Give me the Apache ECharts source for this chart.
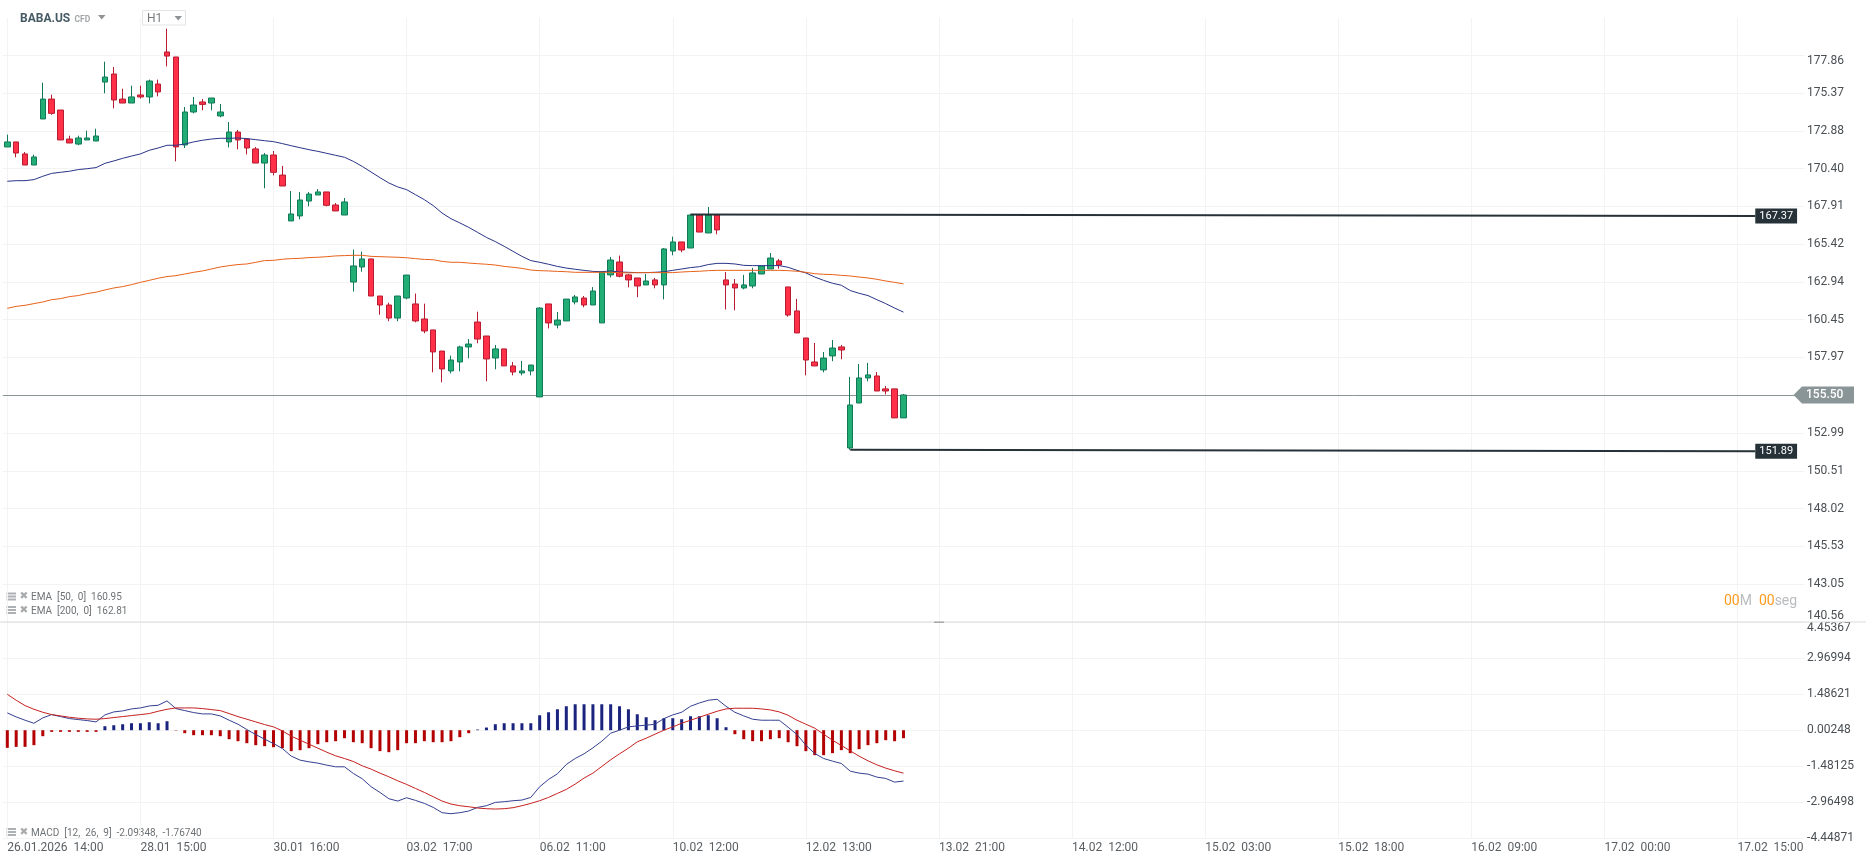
<!DOCTYPE html>
<html>
<head>
<meta charset="utf-8">
<style>html,body{margin:0;padding:0;background:#fff;overflow:hidden}#c{width:1866px;height:865px}</style>
<script src="https://cdn.jsdelivr.net/npm/echarts@6/dist/echarts.min.js"></script>
</head>
<body>
<div id="c"></div>
<script>
const tickLabels = ['26.01.2026  14:00','28.01  15:00','30.01  16:00','03.02  17:00','06.02  11:00','10.02  12:00','12.02  13:00','13.02  21:00','14.02  12:00','15.02  03:00','15.02  18:00','16.02  09:00','17.02  00:00','17.02  15:00'];
const priceTicks = [140.56,143.05,145.53,148.02,150.51,152.99,155.48,157.97,160.45,162.94,165.42,167.91,170.40,172.88,175.37,177.86];
const macdTicks = [-4.44871,-2.96498,-1.48125,0.00248,1.48621,2.96994,4.45367];
const lastPrice = 155.50;
const levelHigh = [167.37, 167.28];
const levelLow = [151.89, 151.80];

const barOpen = [
171.82,172.15,171.36,170.63,173.66,174.97,174.25,172.34,172.01,172.28,
172.21,176.09,176.62,174.97,174.71,175.24,175.11,175.96,178.07,177.74,
171.95,174.12,174.78,174.71,173.86,172.15,172.80,172.34,171.69,170.76,
171.29,169.97,166.95,167.28,168.26,168.66,168.86,168.00,167.34,162.93,
163.92,164.45,162.01,161.42,160.56,161.88,161.49,160.50,159.78,158.39,
157.08,157.67,158.66,160.30,159.38,157.93,158.53,157.41,156.95,157.08,
155.37,161.49,160.10,160.37,161.62,161.88,161.42,160.24,163.40,164.25,
163.40,163.20,162.74,163.07,162.74,164.97,165.57,165.17,167.34,166.16,
167.34,163.07,162.80,162.54,162.67,163.46,163.79,164.32,162.61,161.03,
159.25,157.67,157.15,158.07,158.66,152.01,154.97,156.62,156.75,155.90,155.90,153.99];
const barClose = [
172.15,171.42,170.63,171.16,174.97,174.03,172.28,172.08,172.41,172.41,
172.54,176.42,174.91,174.71,175.11,175.11,176.16,175.44,177.80,171.82,
174.12,174.58,174.62,175.04,174.12,172.80,172.28,171.75,170.76,171.29,
170.15,169.25,167.41,168.33,168.72,168.86,167.98,167.61,168.20,163.99,
164.45,162.01,161.42,160.56,162.01,163.39,160.37,159.71,158.33,157.21,
157.80,158.66,158.85,159.18,157.87,158.53,157.41,157.01,157.08,157.47,
161.22,160.24,160.43,161.81,161.95,161.42,162.34,163.59,164.38,163.31,
163.07,162.67,163.00,162.74,165.11,165.57,165.04,167.34,166.22,167.34,
166.36,162.74,162.54,162.74,163.53,163.99,164.51,164.05,160.76,159.58,
157.80,157.41,157.93,158.59,158.46,154.84,156.62,156.82,155.76,155.76,153.99,155.50];
const barLow = [
171.82,171.14,170.63,170.63,173.66,173.94,172.28,172.08,171.93,172.28,
172.21,175.35,174.36,174.71,174.71,175.00,174.69,175.15,177.12,170.87,
171.75,174.03,174.23,174.23,173.77,171.79,171.66,171.33,170.76,169.10,
169.95,169.25,166.95,167.06,167.91,168.66,167.91,167.61,167.34,162.30,
163.61,162.01,160.78,160.35,160.35,161.79,160.28,159.56,156.99,156.33,
156.92,157.06,157.91,158.90,156.40,157.19,157.41,156.79,156.79,156.79,
155.37,159.88,159.88,160.37,161.46,161.27,161.42,160.24,163.24,163.24,
162.58,161.93,162.74,162.52,161.79,164.69,164.89,165.17,166.22,166.16,
166.07,161.12,161.07,162.45,162.52,163.46,163.79,163.81,160.65,159.58,
156.79,157.41,156.99,157.72,157.85,151.89,154.97,156.40,155.76,155.54,153.99,153.99];
const barHigh = [
172.63,172.15,171.49,171.31,176.05,175.26,174.25,172.56,172.56,172.89,
173.02,177.43,177.08,175.65,175.85,175.85,176.25,176.25,179.60,177.74,
174.45,175.11,174.97,175.04,174.65,173.46,172.94,172.41,171.82,171.42,
171.55,170.57,168.92,168.86,168.86,169.05,168.86,168.13,168.46,165.06,
164.93,164.45,162.01,161.57,162.01,163.39,162.17,161.51,159.78,158.39,
158.09,158.74,159.18,160.98,159.38,158.79,158.53,157.67,157.74,157.47,
161.27,161.49,160.96,161.81,162.08,162.01,162.60,163.59,164.58,164.67,
163.46,163.20,163.46,163.20,165.17,165.92,165.57,167.37,167.34,167.87,
167.41,163.59,163.13,163.40,163.86,163.99,164.84,164.45,162.61,161.82,
159.25,158.92,158.33,159.12,158.79,156.69,157.54,157.61,157.01,156.09,155.90,155.57];
const ema50 = [
169.56,169.60,169.60,169.67,169.89,170.08,170.15,170.22,170.33,170.39,
170.46,170.74,170.90,171.07,171.22,171.36,171.60,171.75,171.93,171.93,
172.01,172.15,172.26,172.34,172.39,172.39,172.41,172.37,172.30,172.23,
172.17,172.04,171.90,171.77,171.64,171.53,171.40,171.27,171.14,170.87,
170.54,170.17,169.80,169.45,169.19,169.01,168.68,168.35,167.96,167.47,
167.10,166.82,166.53,166.20,165.87,165.59,165.28,164.95,164.62,164.34,
164.23,164.10,163.96,163.85,163.77,163.70,163.63,163.61,163.66,163.59,
163.57,163.55,163.55,163.57,163.61,163.70,163.79,163.88,163.94,164.08,
164.16,164.16,164.12,164.03,164.01,164.01,164.01,164.01,163.90,163.70,
163.53,163.26,163.04,162.85,162.72,162.37,162.19,162.04,161.77,161.51,161.22,160.95];
const ema200 = [
161.20,161.33,161.40,161.51,161.62,161.77,161.84,161.97,162.04,162.17,
162.26,162.41,162.54,162.63,162.76,162.91,163.04,163.18,163.29,163.35,
163.46,163.57,163.66,163.79,163.92,164.01,164.08,164.12,164.23,164.34,
164.36,164.43,164.47,164.49,164.54,164.56,164.60,164.65,164.67,164.69,
164.69,164.62,164.60,164.58,164.56,164.53,164.47,164.42,164.40,164.29,
164.23,164.23,164.18,164.14,164.10,164.05,163.96,163.90,163.83,163.72,
163.68,163.66,163.63,163.61,163.57,163.57,163.57,163.57,163.57,163.55,
163.53,163.55,163.55,163.55,163.55,163.55,163.59,163.62,163.64,163.68,
163.70,163.70,163.70,163.70,163.70,163.70,163.70,163.70,163.68,163.64,
163.57,163.48,163.44,163.42,163.37,163.33,163.26,163.20,163.11,163.00,162.91,162.81];
const macdLine = [
0.712,0.548,0.411,0.287,0.507,0.643,0.561,0.479,0.438,0.397,
0.342,0.630,0.753,0.794,0.876,0.917,0.999,1.027,1.205,0.890,
0.808,0.726,0.671,0.671,0.589,0.411,0.246,0.027,-0.178,-0.370,
-0.548,-0.753,-1.068,-1.232,-1.301,-1.355,-1.437,-1.506,-1.506,-1.780,
-1.999,-2.327,-2.560,-2.820,-2.916,-2.779,-2.889,-3.012,-3.176,-3.395,
-3.436,-3.395,-3.327,-3.176,-3.108,-2.971,-2.943,-2.902,-2.875,-2.765,
-2.327,-2.026,-1.793,-1.410,-1.164,-0.972,-0.726,-0.452,-0.123,0.000,
0.137,0.178,0.205,0.246,0.479,0.630,0.739,0.986,1.123,1.232,
1.273,0.986,0.739,0.589,0.452,0.411,0.411,0.411,0.123,-0.178,
-0.616,-0.958,-1.164,-1.273,-1.369,-1.684,-1.766,-1.807,-1.930,-1.985,-2.136,-2.093];
const signalLine = [
1.479,1.232,1.013,0.862,0.739,0.643,0.589,0.534,0.493,0.465,
0.452,0.479,0.520,0.561,0.602,0.643,0.685,0.780,0.862,0.917,
0.917,0.917,0.890,0.849,0.808,0.685,0.561,0.452,0.342,0.233,
0.137,-0.027,-0.246,-0.411,-0.575,-0.739,-0.904,-1.054,-1.164,-1.287,
-1.465,-1.602,-1.766,-1.917,-2.081,-2.231,-2.396,-2.560,-2.738,-2.916,
-3.039,-3.108,-3.149,-3.203,-3.231,-3.245,-3.231,-3.190,-3.108,-3.012,
-2.902,-2.765,-2.601,-2.437,-2.218,-1.971,-1.766,-1.492,-1.218,-0.972,
-0.739,-0.479,-0.329,-0.164,0.000,0.137,0.287,0.411,0.534,0.657,
0.780,0.876,0.904,0.904,0.904,0.876,0.835,0.753,0.616,0.411,
0.246,0.082,-0.164,-0.411,-0.630,-0.849,-1.068,-1.259,-1.424,-1.561,-1.670,-1.767];
const macdHist = [
-0.726,-0.685,-0.685,-0.616,-0.246,-0.068,-0.068,-0.068,-0.068,-0.068,
-0.068,0.164,0.205,0.246,0.287,0.287,0.329,0.287,0.370,-0.014,
-0.123,-0.205,-0.205,-0.205,-0.246,-0.370,-0.452,-0.534,-0.616,-0.657,
-0.698,-0.739,-0.862,-0.821,-0.739,-0.575,-0.493,-0.452,-0.329,-0.493,
-0.534,-0.739,-0.862,-0.904,-0.821,-0.534,-0.534,-0.452,-0.493,-0.493,
-0.452,-0.287,-0.123,0.027,0.110,0.246,0.287,0.287,0.287,0.287,
0.616,0.739,0.862,0.986,1.068,1.068,1.068,1.068,1.068,0.986,
0.862,0.657,0.534,0.411,0.493,0.493,0.452,0.575,0.575,0.616,
0.493,0.123,-0.164,-0.370,-0.452,-0.452,-0.370,-0.329,-0.493,-0.657,
-0.862,-1.027,-1.027,-0.945,-0.821,-0.945,-0.780,-0.616,-0.534,-0.411,-0.452,-0.329];

const slots = 203;
const tickEvery = 15;
const categories = Array.from({length: slots}, (_, i) => (i % tickEvery === 0 && tickLabels[i / tickEvery]) || '');
const candles = barOpen.map((o, i) => [o, barClose[i], barLow[i], barHigh[i]]);
const gridColor = '#f3f3f3';
const font = 'Roboto';

function xAxisFor(gridIndex, showLabels) {
  return {
    type: 'category', gridIndex, data: categories, boundaryGap: true,
    axisLine: {show: false}, axisTick: {show: false, interval: tickEvery - 1, alignWithLabel: true},
    splitLine: {show: true, interval: tickEvery - 1, alignWithLabel: true, lineStyle: {color: gridColor, width: 1}},
    axisLabel: {show: showLabels, interval: tickEvery - 1, align: 'left', margin: 4, color: '#5a5f63', fontFamily: font, fontSize: 12}
  };
}
function yAxisFor(gridIndex, min, max, ticks, labelTicks, digits) {
  return {
    type: 'value', gridIndex, position: 'right', min, max, scale: true,
    axisLine: {show: false},
    axisTick: {show: false, customValues: ticks},
    splitLine: {show: true, lineStyle: {color: gridColor, width: 1}},
    axisLabel: {show: true, customValues: labelTicks, margin: 3, color: '#4a4f53', fontFamily: font, fontSize: 12,
      verticalAlignMinLabel: gridIndex === 0 ? 'bottom' : 'middle',
      verticalAlignMaxLabel: 'top',
      formatter: v => v.toFixed(digits)}
  };
}
function levelSeries(start, ends) {
  return {
    type: 'line', xAxisIndex: 0, yAxisIndex: 0, data: [[start, ends[0]], [197, ends[1]]], symbol: 'none', z: 5, silent: true,
    lineStyle: {color: '#263238', width: 2},
    endLabel: {show: true, position: 'right', distance: 0, formatter: () => ends[0].toFixed(2), backgroundColor: '#263238', color: '#fff',
      fontFamily: font, fontSize: 11, lineHeight: 11, padding: [2, 4, 2, 4]}
  };
}
function legendGraphics(text, cy) {
  return [
    {type: 'rect', shape: {x: 6.5, y: cy - 4.5, width: 9.5, height: 2}, style: {fill: '#aeb1b3'}},
    {type: 'rect', shape: {x: 6.5, y: cy - 1.5, width: 9.5, height: 2}, style: {fill: '#aeb1b3'}},
    {type: 'rect', shape: {x: 6.5, y: cy + 1.5, width: 9.5, height: 2}, style: {fill: '#aeb1b3'}},
    {type: 'text', x: 19.5, y: cy - 0.5, style: {text: '\u2716', fill: '#a8abad', font: '10.5px "DejaVu Sans"', verticalAlign: 'middle'}},
    {type: 'text', x: 31, y: cy + 0.5, style: {text, fill: '#6f7376', font: '10px Roboto', verticalAlign: 'middle'}}
  ];
}

const chart = echarts.init(document.getElementById('c'), null, {renderer: 'canvas'});
chart.setOption({
  animation: false,
  backgroundColor: '#ffffff',
  grid: [
    {left: 2.87, width: 1801.2, top: 18, height: 604},
    {left: 2.87, width: 1801.2, top: 622, height: 216.3}
  ],
  xAxis: [xAxisFor(0, false), xAxisFor(1, true)],
  yAxis: [
    yAxisFor(0, 140.56, 180.305, priceTicks, priceTicks.filter(v => v !== 155.48), 2),
    yAxisFor(1, -4.44871, 4.45367, macdTicks, macdTicks, 5)
  ],
  series: [
    {type: 'line', xAxisIndex: 0, yAxisIndex: 0, data: [], z: 1, silent: true,
     markLine: {silent: true, z: 1, symbol: 'none', animation: false, label: {show: false}, lineStyle: {color: '#8a9598', width: 1, type: 'solid'}, data: [{yAxis: lastPrice}]}},
    {type: 'candlestick', xAxisIndex: 0, yAxisIndex: 0, data: candles, barWidth: 6, z: 3, clip: false,
     itemStyle: {color: '#22ad74', color0: '#ff3048', borderColor: '#11795a', borderColor0: '#b71c31', borderWidth: 1}},
    {type: 'line', xAxisIndex: 0, yAxisIndex: 0, data: ema50, symbol: 'none', z: 4, lineStyle: {color: '#2a3488', width: 1}},
    {type: 'line', xAxisIndex: 0, yAxisIndex: 0, data: ema200, symbol: 'none', z: 4, lineStyle: {color: '#e8621a', width: 1}},
    levelSeries(77, levelHigh),
    levelSeries(95, levelLow),
    {type: 'custom', xAxisIndex: 0, yAxisIndex: 0, data: [[0, lastPrice]], z: 6, clip: false, silent: true,
     renderItem: (params, api) => {
       const y = api.coord([0, api.value(1)])[1];
       return {type: 'group', children: [
         {type: 'polygon', shape: {points: [[1793.5, y], [1802, y - 8.5], [1854, y - 8.5], [1854, y + 8.5], [1802, y + 8.5]]}, style: {fill: '#8a9598'}},
         {type: 'text', x: 1806, y: y + 0.5, style: {text: api.value(1).toFixed(2), fill: '#fff', font: '500 12px Roboto', verticalAlign: 'middle'}}
       ]};
     }},
    {type: 'bar', xAxisIndex: 1, yAxisIndex: 1, data: macdHist.map(v => ({value: v, itemStyle: {color: v >= 0 ? '#1a237e' : '#b30000'}})), barWidth: 3, z: 3},
    {type: 'line', xAxisIndex: 1, yAxisIndex: 1, data: macdLine, symbol: 'none', z: 4, lineStyle: {color: '#35408f', width: 1}},
    {type: 'line', xAxisIndex: 1, yAxisIndex: 1, data: signalLine, symbol: 'none', z: 4, lineStyle: {color: '#c62020', width: 1}}
  ],
  graphic: [
    {type: 'rect', z: 20, shape: {x: 0, y: 621.5, width: 1866, height: 1}, style: {fill: '#dcdcdc'}},
    {type: 'rect', z: 20, shape: {x: 934, y: 621.5, width: 10, height: 1.5}, style: {fill: '#a8a8a8'}},
    {type: 'text', z: 20, x: 20, y: 18.5, style: {text: 'BABA.US', fill: '#455a64', font: 'bold 12px Roboto', verticalAlign: 'middle'}},
    {type: 'text', z: 20, x: 74.5, y: 19.5, style: {text: 'CFD', fill: '#a3a6a8', font: 'bold 8.5px Roboto', verticalAlign: 'middle'}},
    {type: 'polygon', z: 20, shape: {points: [[98, 15], [105.5, 15], [101.75, 19.5]]}, style: {fill: '#8f9396'}},
    {type: 'rect', z: 20, shape: {x: 142.5, y: 10.5, width: 43, height: 14.5}, style: {fill: 'rgba(255,255,255,0.95)', stroke: '#e4e4e4', lineWidth: 1}},
    {type: 'text', z: 21, x: 147, y: 18.5, style: {text: 'H1', fill: '#777b7e', font: '12px Roboto', verticalAlign: 'middle'}},
    {type: 'polygon', z: 21, shape: {points: [[174.5, 16], [182, 16], [178.25, 20.5]]}, style: {fill: '#8f9396'}},
    {type: 'group', z: 20, children: legendGraphics('EMA  [50,  0]  160.95', 597)},
    {type: 'group', z: 20, children: legendGraphics('EMA  [200,  0]  162.81', 610.5)},
    {type: 'group', z: 20, children: legendGraphics('MACD  [12,  26,  9]  -2.09348,  -1.76740', 832.5)},
    {type: 'text', z: 20, x: 1724, y: 601, style: {
      text: '{o|00}{g|M}  {o|00}{g|seg}', verticalAlign: 'middle', font: '14px Roboto',
      rich: {o: {fill: '#ff9a1f', font: '14px Roboto'}, g: {fill: '#b9bcbe', font: '14px Roboto'}}
    }}
  ]
});
</script>
</body>
</html>
